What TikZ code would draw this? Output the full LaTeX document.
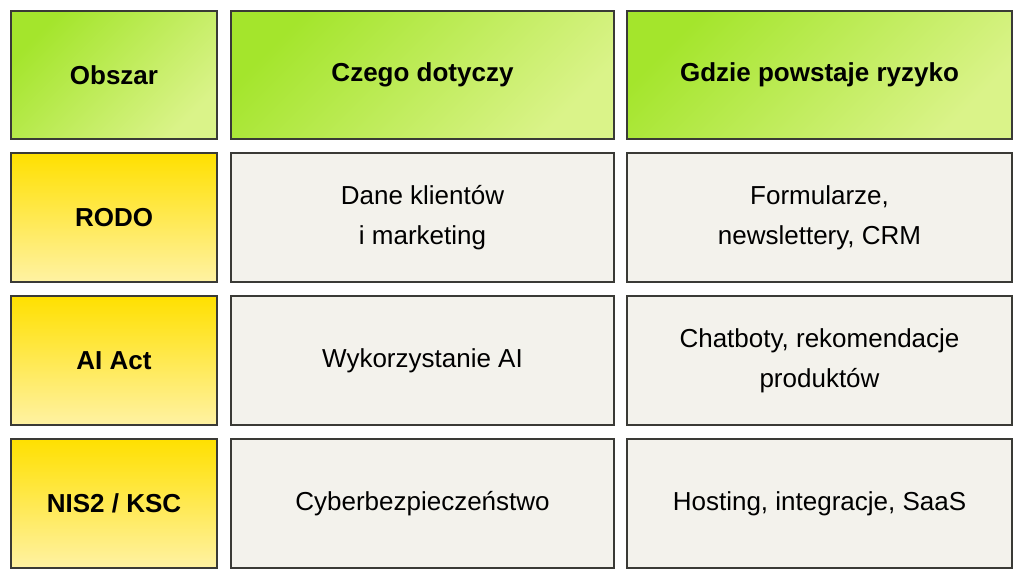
\documentclass[tikz,border=0pt]{standalone}
\usepackage{fontspec}
\setmainfont{Liberation Sans}
\definecolor{headA}{HTML}{A4E52C}
\definecolor{headB}{HTML}{DAF389}
\definecolor{rowA}{HTML}{FFE000}
\definecolor{rowB}{HTML}{FFF2A3}
\definecolor{cellFill}{HTML}{F3F2EC}
\definecolor{cellLine}{HTML}{3A3A36}
\tikzset{
    cellbox/.style={draw=cellLine,line width=1.3pt,inner sep=0pt,align=center,
        font=\fontsize{26}{40}\selectfont},
    headcell/.style={cellbox,shading=axis,top color=headA,bottom color=headB,
        shading angle=45,font=\fontsize{26}{40}\selectfont\bfseries},
    rowcell/.style={cellbox,top color=rowA,bottom color=rowB,
        font=\fontsize{26}{40}\selectfont\bfseries},
    bodycell/.style={cellbox,fill=cellFill},
}
\begin{document}
\begin{tikzpicture}[x=1pt,y=-1pt]
    \useasboundingbox (0,0) rectangle (1024,579);
    % header
    \node[headcell,minimum width=206pt,minimum height=128pt] (hArea) at (114,75) {Obszar};
    \node[headcell,minimum width=383pt,minimum height=128pt] (hWhat) at (422.5,75) {Czego dotyczy};
    \node[headcell,minimum width=385pt,minimum height=128pt] (hRisk) at (819.5,75) {Gdzie powstaje ryzyko};
    % rows
    \foreach \y/\name/\what/\risk in {
        217.5/{RODO}/{Dane klientów\\ i marketing}/{Formularze,\\ newslettery, CRM},
        360.5/{AI Act}/{Wykorzystanie AI}/{Chatboty, rekomendacje\\ produktów},
        503.5/{NIS2 {/} KSC}/{Cyberbezpieczeństwo}/{Hosting, integracje, SaaS}} {
        \node[rowcell,minimum width=206pt,minimum height=129pt] at (114,\y) {\name};
        \node[bodycell,minimum width=383pt,minimum height=129pt] at (422.5,\y) {\what};
        \node[bodycell,minimum width=385pt,minimum height=129pt] at (819.5,\y) {\risk};
    }
\end{tikzpicture}
\end{document}
